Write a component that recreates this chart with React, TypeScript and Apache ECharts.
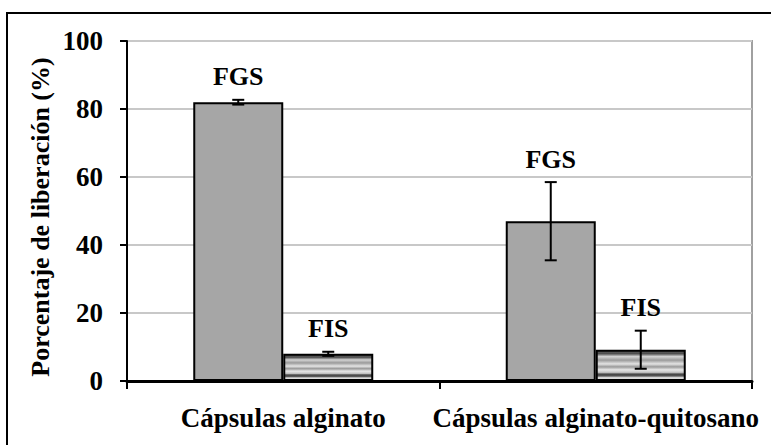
import React, { useEffect, useRef } from "react";
import * as echarts from "echarts";

const categories = ["Cápsulas alginato", "Cápsulas alginato-quitosano"];
const seriesNames = ["FGS", "FIS"];
const fgsValues = [82.0, 47.0];
const fgsErrors = [0.7, 11.5];
const fisValues = [8.0, 9.2];
const fisErrors = [0.6, 5.6];
const yTicks = [0, 20, 40, 60, 80, 100];

const FONT = "Liberation Serif";
const BAR_W = 90;

export default function App() {
  const ref = useRef<HTMLDivElement>(null);
  useEffect(() => {
    if (!ref.current) return;
    const chart = echarts.init(ref.current, undefined, { renderer: "svg" });
    const stripe = new echarts.graphic.LinearGradient(0, 0, 0, 1, [
      { offset: 0, color: "#5e5e5e" },
      { offset: 0.1, color: "#4e4e4e" },
      { offset: 0.2, color: "#d4d4d4" },
      { offset: 0.32, color: "#9a9a9a" },
      { offset: 0.45, color: "#e4e4e4" },
      { offset: 0.55, color: "#9a9a9a" },
      { offset: 0.65, color: "#e6e6e6" },
      { offset: 0.74, color: "#c4c4c4" },
      { offset: 0.8, color: "#444444" },
      { offset: 0.86, color: "#555555" },
      { offset: 0.92, color: "#e0e0e0" },
      { offset: 1, color: "#d0d0d0" },
    ]);
    const errSeries = (name: string, vals: number[], errs: number[], side: number) => ({
      type: "custom",
      name: name + "-err",
      z: 5,
      data: vals.map((v, i) => [i, v, errs[i]]),
      renderItem: (_params: any, api: any) => {
        const ci = api.value(0);
        const m = api.value(1);
        const e = api.value(2);
        const top = api.coord([ci, m + e]);
        const bot = api.coord([ci, m - e]);
        const x = top[0] + (side * BAR_W) / 2;
        const cap = 6;
        const ls = { stroke: "#000", lineWidth: 2 };
        return {
          type: "group",
          children: [
            { type: "line", shape: { x1: x, y1: top[1], x2: x, y2: bot[1] }, style: ls },
            { type: "line", shape: { x1: x - cap, y1: top[1], x2: x + cap, y2: top[1] }, style: ls },
            { type: "line", shape: { x1: x - cap, y1: bot[1], x2: x + cap, y2: bot[1] }, style: ls },
            {
              type: "text",
              x: x,
              y: top[1] - 10,
              style: {
                text: name,
                textAlign: "center",
                textVerticalAlign: "bottom",
                fontFamily: FONT,
                fontWeight: "bold",
                fontSize: 26,
                fill: "#000",
              },
            },
          ],
        };
      },
    });
    chart.setOption({
      animation: false,
      backgroundColor: "#fff",
      grid: {
        left: 127,
        right: 19,
        top: 41,
        bottom: 64,
        show: true,
        borderColor: "#a0a0a0",
        borderWidth: 2,
      },
      xAxis: {
        type: "category",
        data: categories,
        axisLine: { lineStyle: { color: "#000", width: 3 } },
        axisTick: { show: true, length: 8, lineStyle: { color: "#000", width: 2 } },
        axisLabel: {
          interval: 0,
          margin: 23,
          color: "#000",
          fontFamily: FONT,
          fontWeight: "bold",
          fontSize: 27,
        },
      },
      yAxis: {
        type: "value",
        min: 0,
        max: 100,
        interval: 20,
        axisLine: { show: true, lineStyle: { color: "#000", width: 2 } },
        axisTick: { show: true, length: 7, lineStyle: { color: "#000", width: 2 } },
        axisLabel: {
          margin: 24,
          color: "#000",
          fontFamily: FONT,
          fontWeight: "bold",
          fontSize: 27,
          formatter: (v: number) => (yTicks.includes(v) ? String(v) : ""),
        },
        splitLine: { show: true, lineStyle: { color: "#c8c8c8", width: 2 } },
      },
      graphic: [
        {
          type: "rect",
          shape: { x: 7, y: 13, width: 800, height: 500 },
          style: { fill: "none", stroke: "#000", lineWidth: 2 },
          silent: true,
        },
        {
          type: "text",
          x: 40,
          y: 217,
          rotation: Math.PI / 2,
          style: {
            text: "Porcentaje de liberación (%)",
            textAlign: "center",
            textVerticalAlign: "middle",
            fontFamily: FONT,
            fontWeight: "bold",
            fontSize: 26,
            fill: "#000",
          },
        },
      ],
      series: [
        {
          type: "bar",
          name: seriesNames[0],
          data: fgsValues,
          barWidth: BAR_W,
          barGap: "0%",
          itemStyle: { color: "#a6a6a6", borderColor: "#000", borderWidth: 2 },
        },
        {
          type: "bar",
          name: seriesNames[1],
          data: fisValues,
          barWidth: BAR_W,
          barGap: "0%",
          itemStyle: { color: stripe, borderColor: "#000", borderWidth: 2 },
        },
        errSeries(seriesNames[0], fgsValues, fgsErrors, -1),
        errSeries(seriesNames[1], fisValues, fisErrors, 1),
      ],
    });
    return () => chart.dispose();
  }, []);
  return (
    <div
      ref={ref}
      style={{ position: "fixed", left: 0, top: 0, width: 771, height: 445 }}
    />
  );
}
